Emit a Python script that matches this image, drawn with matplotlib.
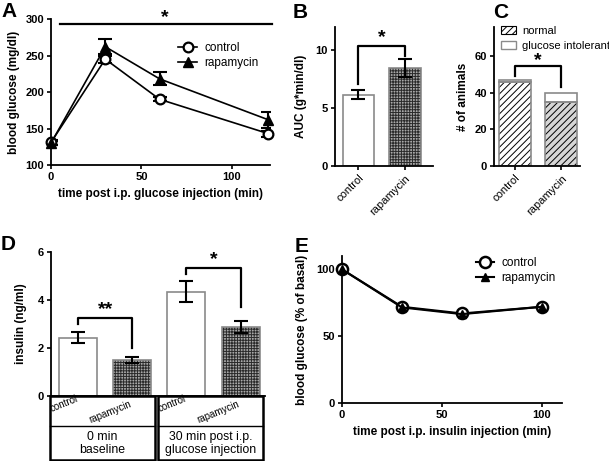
import numpy as np
import matplotlib.pyplot as plt
from matplotlib.patches import Rectangle, Patch

plt.rcParams['font.family'] = ['Liberation Sans', 'DejaVu Sans']
plt.rcParams['hatch.linewidth'] = 0.7

# A - glucose tolerance test
gtt_time = [0, 30, 60, 120]
gtt_control = [131, 245, 190, 143]
gtt_control_err = [3, 5, 3, 4]
gtt_rapa = [130, 262, 218, 162]
gtt_rapa_err = [3, 10, 9, 11]

# B - AUC
groups = ['control', 'rapamycin']
auc = [6.17, 8.45]
auc_err = [0.39, 0.78]

# C - number of animals
normal = [46, 35]
intolerant = [1, 5]

# D - insulin
insulin = [2.42, 1.50, 4.35, 2.89]
insulin_err = [0.23, 0.13, 0.45, 0.25]
insulin_groups = ['0 min\nbaseline', '30 min post i.p.\nglucose injection']

# E - insulin tolerance test
itt_time = [0, 30, 60, 100]
itt_control = [100, 72, 67, 72]
itt_rapa = [100, 71.5, 66.5, 72]

W, H = 609, 461
fig = plt.figure(figsize=(W / 100, H / 100), dpi=100)


def px_axes(left, top, right, bottom):
    return fig.add_axes([left / W, 1 - bottom / H, (right - left) / W, (bottom - top) / H])


def style(ax):
    for s in ['top', 'right']:
        ax.spines[s].set_visible(False)
    for s in ['left', 'bottom']:
        ax.spines[s].set_linewidth(1.3)
    ax.tick_params(width=1.2, length=3, labelsize=8, pad=2)
    for lab in ax.get_yticklabels() + ax.get_xticklabels():
        lab.set_fontweight('bold')


def bracket(ax, x1, x2, yl, yr, top, txt, dy):
    ax.plot([x1, x1, x2, x2], [yl, top, top, yr], color='k', lw=1.6, clip_on=False)
    ax.text((x1 + x2) / 2, top + dy, txt, ha='center', va='center',
            fontsize=14, fontweight='bold')


ebkw = dict(fmt='none', ecolor='k', elinewidth=1.5, capsize=5, capthick=1.5)

# ---------- A ----------
axA = px_axes(51, 19, 270, 165)
axA.errorbar(gtt_time, gtt_control, yerr=gtt_control_err, **ebkw, zorder=2)
axA.errorbar(gtt_time, gtt_rapa, yerr=gtt_rapa_err, **ebkw, zorder=2)
axA.plot(gtt_time, gtt_control, '-o', color='k', lw=1.2, ms=7, mfc='white',
         mew=1.6, clip_on=False, label='control', zorder=3)
axA.plot(gtt_time, gtt_rapa, '-^', color='k', lw=1.2, ms=6.5, clip_on=False,
         label='rapamycin', zorder=4)
axA.set_xlim(0, 121)
axA.set_ylim(100, 300)
axA.set_xticks([0, 50, 100])
axA.set_yticks([100, 150, 200, 250, 300])
axA.set_xlabel('time post i.p. glucose injection (min)', fontsize=8.5, fontweight='bold')
axA.set_ylabel('blood glucose (mg/dl)', fontsize=8.5, fontweight='bold', labelpad=4)
axA.plot([5, 122], [293, 293], color='k', lw=1.6, clip_on=False)
axA.text(63, 302, '*', ha='center', va='center', fontsize=14, fontweight='bold')
axA.legend(loc='upper left', bbox_to_anchor=(0.555, 0.88), frameon=False, fontsize=8.5,
           handlelength=1.6, handletextpad=0.6, labelspacing=0.2, borderpad=0)
style(axA)

# ---------- B ----------
axB = px_axes(335, 27, 433, 166)
xB = np.arange(len(groups))
axB.bar(xB[0], auc[0], width=0.67, color='white', edgecolor='#8a8a8a', lw=1.2, zorder=1)
axB.bar(xB[1], auc[1], width=0.67, color='#a8a8a8', edgecolor='#2a2a2a', lw=0,
        hatch='++++++', zorder=1)
axB.bar(xB[1], auc[1], width=0.67, fill=False, edgecolor='#8a8a8a', lw=1.2, zorder=1)
axB.errorbar(xB, auc, yerr=auc_err, **ebkw, zorder=3)
axB.set_xlim(-0.5, 1.6)
axB.set_ylim(0, 12)
axB.set_yticks([0, 5, 10])
axB.set_xticks(xB)
axB.set_xticklabels(groups, rotation=45, ha='right', rotation_mode='anchor')
axB.set_ylabel('AUC (g*min/dl)', fontsize=8.5, fontweight='bold', labelpad=6)
bracket(axB, 0, 1, 7.1, 9.5, 10.35, '*', 0.7)
style(axB)
for lab in axB.get_xticklabels():
    lab.set_fontweight('normal')

# ---------- C ----------
axC = px_axes(494, 27, 580, 166)
xC = np.arange(len(groups))
axC.bar(xC, normal, width=0.69, color=['white', '#d6d6d6'], edgecolor='k', lw=0,
        hatch='/////', zorder=1)
axC.bar(xC, intolerant, bottom=normal, width=0.69, color='white', lw=0, zorder=1)
axC.bar(xC, normal, width=0.69, fill=False, edgecolor='#8a8a8a', lw=1.2, zorder=2)
axC.bar(xC, intolerant, bottom=normal, width=0.69, fill=False, edgecolor='#8a8a8a',
        lw=1.2, zorder=2)
axC.set_xlim(-0.45, 1.4)
axC.set_ylim(0, 76)
axC.set_yticks([0, 20, 40, 60])
axC.set_xticks(xC)
axC.set_xticklabels(groups, rotation=45, ha='right', rotation_mode='anchor')
axC.set_ylabel('# of animals', fontsize=8.5, fontweight='bold', labelpad=4)
bracket(axC, 0, 1, 49, 43, 54.5, '*', 3.3)
hN = Patch(facecolor='white', edgecolor='k', hatch='/////', lw=0.8)
hG = Patch(facecolor='white', edgecolor='#8a8a8a', lw=1.0)
axC.legend([hN, hG], ['normal', 'glucose intolerant'], loc='upper left',
           bbox_to_anchor=(0.02, 1.05), frameon=False, fontsize=8,
           handlelength=1.3, handleheight=0.8, handletextpad=0.55, labelspacing=0.45,
           borderpad=0)
style(axC)
for lab in axC.get_xticklabels():
    lab.set_fontweight('normal')

# ---------- D ----------
axD = px_axes(51, 252, 265, 396)
xD = np.arange(len(insulin))
for i in xD:
    if i % 2 == 0:
        axD.bar(i, insulin[i], width=0.7, color='white', edgecolor='#8a8a8a', lw=1.2)
    else:
        axD.bar(i, insulin[i], width=0.7, color='#a8a8a8', edgecolor='#2a2a2a', lw=0,
                hatch='++++++')
        axD.bar(i, insulin[i], width=0.7, fill=False, edgecolor='#8a8a8a', lw=1.2)
axD.errorbar(xD, insulin, yerr=insulin_err, **ebkw, zorder=3)
axD.set_xlim(-0.5, 3.45)
axD.set_ylim(0, 6)
axD.set_yticks([0, 2, 4, 6])
axD.set_xticks([])
axD.set_ylabel('insulin (ng/ml)', fontsize=8.5, fontweight='bold', labelpad=8)
bracket(axD, 0, 1, 3.0, 2.0, 3.25, '**', 0.35)
bracket(axD, 2, 3, 5.1, 3.72, 5.32, '*', 0.35)
style(axD)

# table under D
tr = axD.transAxes
for x0, x1, grp in [(-0.005, 0.486, insulin_groups[0]), (0.5, 0.99, insulin_groups[1])]:
    axD.add_patch(Rectangle((x0, -0.445), x1 - x0, 0.445, transform=tr, fill=False,
                            lw=1.8, edgecolor='k', clip_on=False))
    axD.plot([x0, x1], [-0.21, -0.21], transform=tr, color='k', lw=1.0, clip_on=False)
    axD.text((x0 + x1) / 2, -0.33, grp, transform=tr, ha='center', va='center',
             fontsize=8.8, linespacing=1.05)
    axD.text(x0 + 0.008, -0.11, 'control', transform=tr, rotation=22, ha='left',
             va='baseline', fontsize=7, rotation_mode='anchor')
    axD.text(x0 + 0.19, -0.19, 'rapamycin', transform=tr, rotation=22, ha='left',
             va='baseline', fontsize=7, rotation_mode='anchor')

# ---------- E ----------
axE = px_axes(342, 256, 562, 403)
axE.plot(itt_time, itt_control, '-o', color='k', lw=1.5, ms=8, mfc='white', mew=1.8,
         clip_on=False, label='control', zorder=3)
axE.plot(itt_time, itt_rapa, '-^', color='k', lw=1.5, ms=6, clip_on=False,
         label='rapamycin', zorder=4)
axE.set_xlim(0, 110)
axE.set_ylim(0, 110)
axE.set_xticks([0, 50, 100])
axE.set_yticks([0, 50, 100])
axE.set_xlabel('time post i.p. insulin injection (min)', fontsize=8.5, fontweight='bold')
axE.set_ylabel('blood glucose (% of basal)', fontsize=8.5, fontweight='bold', labelpad=6)
axE.legend(loc='upper left', bbox_to_anchor=(0.58, 1.03), frameon=False, fontsize=8.5,
           handlelength=1.6, handletextpad=0.6, labelspacing=0.2, borderpad=0)
style(axE)

# panel letters
for lbl, x, y in [('A', 1, 2), ('B', 293, 3), ('C', 493, 3), ('D', 1, 235), ('E', 295, 237)]:
    fig.text(x / W, 1 - y / H, lbl, fontsize=15, fontweight='bold', va='top', ha='left')

fig.savefig('out.png', dpi=100)
